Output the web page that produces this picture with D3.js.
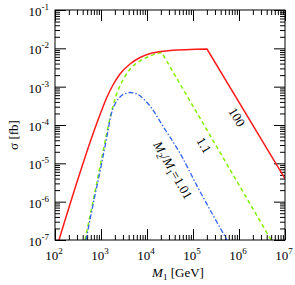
<!DOCTYPE html>
<html>
<head>
<meta charset="utf-8">
<script src="https://cdn.jsdelivr.net/npm/d3@7"></script>
<style>
  body { margin: 0; background: #fff; }
  svg text { font-family: "Liberation Serif", "Times New Roman", serif; fill: #000; }
</style>
</head>
<body>
<svg id="chart" width="295" height="285"></svg>
<script>
// x: M1 [GeV], y: sigma [fb]
let xMajor = [1e2, 1e3, 1e4, 1e5, 1e6, 1e7];
let xExp = ["2", "3", "4", "5", "6", "7"];
let yMajor = [1e-7, 1e-6, 1e-5, 1e-4, 1e-3, 1e-2, 1e-1];
let yExp = ["-7", "-6", "-5", "-4", "-3", "-2", "-1"];

// red, 100 : rising part + straight fall after the kink
let redM = [122, 296, 680, 1000, 1350, 1823, 2588, 4271, 7043, 12840, 31620, 201600];
let redS = [1e-7, 3.07e-6, 6.18e-5, 2.18e-4, 5.38e-4, 1.105e-3, 2.14e-3, 3.90e-3, 5.77e-3, 7.55e-3, 8.78e-3, 9.61e-3];
let redFallM = [201600, 1e7];
let redFallS = [9.61e-3, 4.0e-6];

// green, 1.1
let greenM = [449, 680, 951, 1330, 1650, 2015, 2462, 3162, 4489, 7043, 11620, 20870];
let greenS = [1e-7, 1.105e-6, 8.17e-6, 6.07e-5, 1.94e-4, 4.77e-4, 9.23e-4, 1.68e-3, 3.07e-3, 4.67e-3, 6.31e-3, 7.78e-3];
let greenFallM = [20870, 5.0e6];
let greenFallS = [7.78e-3, 1e-7];

// blue, 1.01
let blueM = [472, 704, 1000, 1384, 1650, 2015, 2588, 3325, 4271, 5766, 7785, 11620, 22610, 52170, 130400, 548400];
let blueS = [1e-7, 1.105e-6, 8.17e-6, 6.07e-5, 1.82e-4, 3.53e-4, 5.38e-4, 6.63e-4, 7.04e-4, 6.63e-4, 5.22e-4, 3.13e-4, 9.03e-5, 1.83e-5, 2.23e-6, 1e-7];

let pLeft = 55, pRight = 285, pTop = 10, pBottom = 240;

let svg = d3.select("#chart");

let x = d3.scaleLog().domain([1e2, 1e7]).range([pLeft, pRight]);
let y = d3.scaleLog().domain([1e-7, 1e-1]).range([pBottom, pTop]);

// minor ticks 2..9 in each decade
function minors(majors) {
  let out = [];
  for (let i = 0; i < majors.length - 1; i++) {
    for (let k = 2; k <= 9; k++) out.push(majors[i] * k);
  }
  return out;
}
let xMinor = minors(xMajor);
let yMinor = minors(yMajor);

svg.append("defs").append("clipPath").attr("id", "clip")
  .append("rect")
  .attr("x", pLeft).attr("y", pTop)
  .attr("width", pRight - pLeft).attr("height", pBottom - pTop);

// ticks on all four sides, pointing inward
function tickAxis(axis, pos, vals, size) {
  let g = svg.append("g")
    .attr("transform", pos)
    .call(axis.tickValues(vals).tickSize(size).tickFormat(""));
  g.select(".domain").remove();
  g.selectAll("line").attr("stroke", "#000").attr("stroke-width", 1);
}
tickAxis(d3.axisBottom(x), "translate(0," + pBottom + ")", xMajor, -11);
tickAxis(d3.axisBottom(x), "translate(0," + pBottom + ")", xMinor, -5);
tickAxis(d3.axisTop(x), "translate(0," + pTop + ")", xMajor, -11);
tickAxis(d3.axisTop(x), "translate(0," + pTop + ")", xMinor, -5);
tickAxis(d3.axisLeft(y), "translate(" + pLeft + ",0)", yMajor, -11);
tickAxis(d3.axisLeft(y), "translate(" + pLeft + ",0)", yMinor, -5);
tickAxis(d3.axisRight(y), "translate(" + pRight + ",0)", yMajor, -11);
tickAxis(d3.axisRight(y), "translate(" + pRight + ",0)", yMinor, -5);

// curves
let smooth = d3.line().x(d => x(d[0])).y(d => y(d[1])).curve(d3.curveMonotoneX);
let straight = d3.line().x(d => x(d[0])).y(d => y(d[1]));

function zip(a, b) { return a.map((v, i) => [v, b[i]]); }

let curves = svg.append("g").attr("clip-path", "url(#clip)").attr("fill", "none");

curves.append("path")
  .attr("d", smooth(zip(greenM, greenS)) + straight(zip(greenFallM, greenFallS)).replace(/^M/, "L"))
  .attr("stroke", "#84f000")
  .attr("stroke-width", 1.5)
  .attr("stroke-dasharray", "4,3");

curves.append("path")
  .attr("d", smooth(zip(blueM, blueS)))
  .attr("stroke", "#2f62f5")
  .attr("stroke-width", 1.3)
  .attr("stroke-dasharray", "5,2,1.5,2");

curves.append("path")
  .attr("d", smooth(zip(redM, redS)) + straight(zip(redFallM, redFallS)).replace(/^M/, "L"))
  .attr("stroke", "#ff1a1a")
  .attr("stroke-width", 1.5);

// frame
svg.append("rect")
  .attr("x", pLeft).attr("y", pTop)
  .attr("width", pRight - pLeft).attr("height", pBottom - pTop)
  .attr("fill", "none").attr("stroke", "#000").attr("stroke-width", 1);

// tick labels
xMajor.forEach(function (v, i) {
  let t = svg.append("text")
    .attr("x", x(v) - 1).attr("y", 260)
    .attr("text-anchor", "middle")
    .attr("font-size", 13);
  t.append("tspan").text("10");
  t.append("tspan").attr("dy", -6).attr("font-size", 9).text(xExp[i]);
});

yMajor.forEach(function (v, i) {
  let t = svg.append("text")
    .attr("x", 49).attr("y", y(v) + 6)
    .attr("text-anchor", "end")
    .attr("font-size", 13);
  t.append("tspan").text("10");
  t.append("tspan").attr("dy", -6).attr("font-size", 9).text(yExp[i]);
});

// axis titles
let xt = svg.append("text")
  .attr("x", 178).attr("y", 277)
  .attr("text-anchor", "middle")
  .attr("font-size", 13);
xt.append("tspan").attr("font-style", "italic").text("M");
xt.append("tspan").attr("dy", 3).attr("font-size", 9).text("1");
xt.append("tspan").attr("dy", -3).text(" [GeV]");

svg.append("text")
  .attr("transform", "translate(18,135) rotate(-90)")
  .attr("text-anchor", "middle")
  .attr("font-size", 13)
  .text("σ [fb]");

// curve labels
svg.append("text")
  .attr("transform", "translate(237,117) rotate(59)")
  .attr("text-anchor", "middle").attr("dy", "0.35em")
  .attr("font-size", 13)
  .text("100");

svg.append("text")
  .attr("transform", "translate(204,145) rotate(59)")
  .attr("text-anchor", "middle").attr("dy", "0.35em")
  .attr("font-size", 13)
  .text("1.1");

let bl = svg.append("text")
  .attr("transform", "translate(173,170) rotate(60)")
  .attr("text-anchor", "middle").attr("dy", "0.35em")
  .attr("font-size", 13);
bl.append("tspan").attr("font-style", "italic").text("M");
bl.append("tspan").attr("dy", 3).attr("font-size", 9).text("2");
bl.append("tspan").attr("dy", -3).text("/");
bl.append("tspan").attr("font-style", "italic").text("M");
bl.append("tspan").attr("dy", 3).attr("font-size", 9).text("1");
bl.append("tspan").attr("dy", -3).text("=1.01");
</script>
</body>
</html>
